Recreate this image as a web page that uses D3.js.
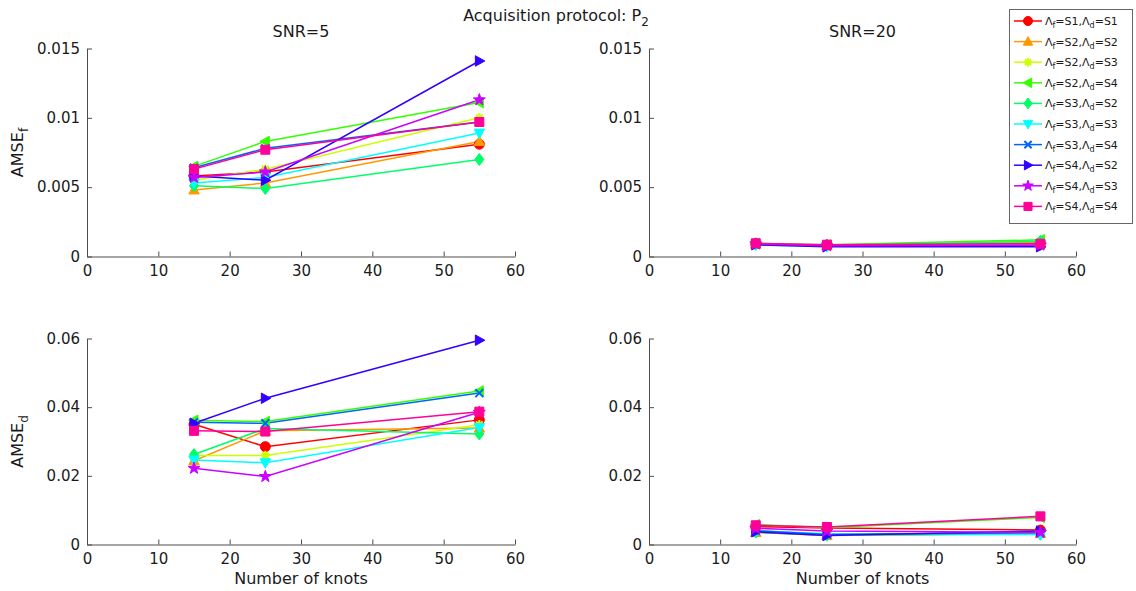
<!DOCTYPE html>
<html>
<head>
<meta charset="utf-8">
<script src="https://cdn.jsdelivr.net/npm/d3@7/dist/d3.min.js"></script>
<style>
  body { margin: 0; background: #fff; }
  svg { display: block; font-family: "DejaVu Sans", Verdana, sans-serif; }
</style>
</head>
<body>
<svg id="chart" width="1136" height="591"></svg>
<script>
// Number of knots (x positions of every series)
const knots = [15, 25, 55];

// Series names as [Λf, Λd]
const seriesNames = [
  ["S1", "S1"], ["S2", "S2"], ["S2", "S3"], ["S2", "S4"], ["S3", "S2"],
  ["S3", "S3"], ["S3", "S4"], ["S4", "S2"], ["S4", "S3"], ["S4", "S4"]
];
const seriesColors = [
  "#ff0000", "#ff9900", "#ccff00", "#33ff00", "#00ff66",
  "#00ffff", "#0066ff", "#3300ff", "#cc00ff", "#ff0099"
];
const seriesMarkers = [
  "circle", "triangleUp", "asterisk", "triangleLeft", "diamond",
  "triangleDown", "cross", "triangleRight", "pentagram", "square"
];

// AMSE_f, SNR = 5
const amseF_snr5 = [
  [0.0058, 0.0061, 0.0081],
  [0.0048, 0.0053, 0.0083],
  [0.0055, 0.0063, 0.0100],
  [0.0065, 0.0083, 0.0111],
  [0.0051, 0.0049, 0.0070],
  [0.0053, 0.0057, 0.0089],
  [0.0064, 0.0078, 0.0097],
  [0.0058, 0.0055, 0.0141],
  [0.0057, 0.0061, 0.0113],
  [0.0063, 0.0077, 0.0097]
];
// AMSE_f, SNR = 20
const amseF_snr20 = [
  [0.00092, 0.00082, 0.00100],
  [0.00088, 0.00078, 0.00100],
  [0.00092, 0.00082, 0.00110],
  [0.00095, 0.00085, 0.00120],
  [0.00090, 0.00080, 0.00110],
  [0.00082, 0.00074, 0.00082],
  [0.00090, 0.00076, 0.00080],
  [0.00085, 0.00070, 0.00070],
  [0.00090, 0.00078, 0.00082],
  [0.00095, 0.00085, 0.00092]
];
// AMSE_d, SNR = 5
const amseD_snr5 = [
  [0.0350, 0.0285, 0.0363],
  [0.0244, 0.0331, 0.0339],
  [0.0259, 0.0259, 0.0349],
  [0.0362, 0.0358, 0.0447],
  [0.0262, 0.0338, 0.0322],
  [0.0246, 0.0238, 0.0341],
  [0.0356, 0.0353, 0.0441],
  [0.0353, 0.0426, 0.0595],
  [0.0222, 0.0198, 0.0385],
  [0.0331, 0.0329, 0.0387]
];
// AMSE_d, SNR = 20
const amseD_snr20 = [
  [0.0052, 0.0048, 0.0042],
  [0.0035, 0.0026, 0.0032],
  [0.0038, 0.0030, 0.0033],
  [0.0058, 0.0049, 0.0079],
  [0.0036, 0.0027, 0.0030],
  [0.0040, 0.0031, 0.0029],
  [0.0040, 0.0029, 0.0034],
  [0.0037, 0.0026, 0.0039],
  [0.0047, 0.0039, 0.0035],
  [0.0056, 0.0051, 0.0082]
];

const xTicks = [0, 10, 20, 30, 40, 50, 60];
const yTicksF = [0, 0.005, 0.01, 0.015];
const yTicksD = [0, 0.02, 0.04, 0.06];
const yTickLabelsF = ["0", "0.005", "0.01", "0.015"];
const yTickLabelsD = ["0", "0.02", "0.04", "0.06"];

const svg = d3.select("#chart");
const axisColor = "#4d4d4d";
const labelSize = 16;

// Marker shape paths centred on (0,0)
function markerPath(kind, r) {
  const p = d3.path();
  switch (kind) {
    case "circle":
      p.arc(0, 0, r, 0, 2 * Math.PI); break;
    case "square":
      p.rect(-r * 0.9, -r * 0.9, r * 1.8, r * 1.8); break;
    case "diamond":
      p.moveTo(0, -r * 1.2); p.lineTo(r * 0.9, 0); p.lineTo(0, r * 1.2); p.lineTo(-r * 0.9, 0); p.closePath(); break;
    case "triangleUp":
      p.moveTo(0, -r * 1.1); p.lineTo(r * 1.05, r * 0.8); p.lineTo(-r * 1.05, r * 0.8); p.closePath(); break;
    case "triangleDown":
      p.moveTo(0, r * 1.1); p.lineTo(r * 1.05, -r * 0.8); p.lineTo(-r * 1.05, -r * 0.8); p.closePath(); break;
    case "triangleLeft":
      p.moveTo(-r * 1.1, 0); p.lineTo(r * 0.8, -r * 1.05); p.lineTo(r * 0.8, r * 1.05); p.closePath(); break;
    case "triangleRight":
      p.moveTo(r * 1.1, 0); p.lineTo(-r * 0.8, -r * 1.05); p.lineTo(-r * 0.8, r * 1.05); p.closePath(); break;
    case "pentagram": {
      for (let i = 0; i < 10; i++) {
        const a = -Math.PI / 2 + i * Math.PI / 5;
        const rr = i % 2 === 0 ? r * 1.25 : r * 0.5;
        if (i === 0) p.moveTo(rr * Math.cos(a), rr * Math.sin(a));
        else p.lineTo(rr * Math.cos(a), rr * Math.sin(a));
      }
      p.closePath(); break;
    }
    case "asterisk": {
      const q = r * 0.95;
      p.moveTo(-q, 0); p.lineTo(q, 0);
      p.moveTo(-q * 0.7, -q * 0.7); p.lineTo(q * 0.7, q * 0.7);
      p.moveTo(-q * 0.7, q * 0.7); p.lineTo(q * 0.7, -q * 0.7);
      p.moveTo(0, -q); p.lineTo(0, q);
      break;
    }
    case "cross": {
      const q = r * 0.8;
      p.moveTo(-q, -q); p.lineTo(q, q);
      p.moveTo(-q, q); p.lineTo(q, -q);
      break;
    }
  }
  return p.toString();
}
const strokeOnly = new Set(["asterisk", "cross"]);

function drawMarker(g, kind, color, x, y, r) {
  const filled = !strokeOnly.has(kind);
  g.append("path")
    .attr("transform", `translate(${x},${y})`)
    .attr("d", markerPath(kind, r))
    .attr("fill", filled ? color : "none")
    .attr("stroke", color)
    .attr("stroke-width", filled ? 1 : 2);
}

function panel(opts) {
  const { left, right, top, bottom, data, yMax, yTicks, yLabels, title, yLabel, yLabelSub, xLabel } = opts;
  const x = d3.scaleLinear().domain([0, 60]).range([left, right]);
  const y = d3.scaleLinear().domain([0, yMax]).range([bottom, top]);
  const g = svg.append("g");

  // x axis with inward ticks
  const xAxis = d3.axisBottom(x).tickValues(xTicks).tickFormat(d3.format("d"))
    .tickSizeInner(-5).tickSizeOuter(0).tickPadding(6);
  const gx = g.append("g").attr("transform", `translate(0,${bottom})`).call(xAxis);
  gx.select(".domain").attr("stroke", axisColor);
  gx.selectAll(".tick line").attr("stroke", axisColor);
  gx.selectAll(".tick text").attr("fill", "#1a1a1a").attr("font-size", 15)
    .attr("font-family", "DejaVu Sans, sans-serif").attr("dy", "0.9em");

  // y axis with inward ticks
  const yAxis = d3.axisLeft(y).tickValues(yTicks).tickFormat((d, i) => yLabels[i])
    .tickSizeInner(-5).tickSizeOuter(0).tickPadding(7);
  const gy = g.append("g").attr("transform", `translate(${left},0)`).call(yAxis);
  gy.select(".domain").attr("stroke", axisColor);
  gy.selectAll(".tick line").attr("stroke", axisColor);
  gy.selectAll(".tick text").attr("fill", "#1a1a1a").attr("font-size", 15)
    .attr("font-family", "DejaVu Sans, sans-serif");

  // series lines then markers
  const line = d3.line().x((d, i) => x(knots[i])).y(d => y(d));
  data.forEach((vals, s) => {
    g.append("path").attr("d", line(vals)).attr("fill", "none")
      .attr("stroke", seriesColors[s]).attr("stroke-width", 1.5);
  });
  data.forEach((vals, s) => {
    vals.forEach((v, i) => drawMarker(g, seriesMarkers[s], seriesColors[s], x(knots[i]), y(v), 5));
  });

  if (title) {
    g.append("text").attr("x", (left + right) / 2).attr("y", top - 12)
      .attr("text-anchor", "middle").attr("font-size", labelSize).attr("fill", "#1a1a1a").text(title);
  }
  if (yLabel) {
    const t = g.append("text")
      .attr("transform", `translate(${left - 64},${(top + bottom) / 2}) rotate(-90)`)
      .attr("text-anchor", "middle").attr("font-size", labelSize).attr("fill", "#1a1a1a");
    t.append("tspan").text(yLabel);
    t.append("tspan").attr("font-size", 12).attr("dy", 5).text(yLabelSub);
  }
  if (xLabel) {
    g.append("text").attr("x", (left + right) / 2).attr("y", bottom + 39)
      .attr("text-anchor", "middle").attr("font-size", labelSize).attr("fill", "#1a1a1a").text(xLabel);
  }
}

const L = [87, 515], R = [649, 1076];
const upper = [48.5, 256.5], lower = [338.5, 544.5];

panel({ left: L[0], right: L[1], top: upper[0], bottom: upper[1], data: amseF_snr5, yMax: 0.015,
  yTicks: yTicksF, yLabels: yTickLabelsF, title: "SNR=5", yLabel: "AMSE", yLabelSub: "f" });
panel({ left: R[0], right: R[1], top: upper[0], bottom: upper[1], data: amseF_snr20, yMax: 0.015,
  yTicks: yTicksF, yLabels: yTickLabelsF, title: "SNR=20" });
panel({ left: L[0], right: L[1], top: lower[0], bottom: lower[1], data: amseD_snr5, yMax: 0.06,
  yTicks: yTicksD, yLabels: yTickLabelsD, yLabel: "AMSE", yLabelSub: "d", xLabel: "Number of knots" });
panel({ left: R[0], right: R[1], top: lower[0], bottom: lower[1], data: amseD_snr20, yMax: 0.06,
  yTicks: yTicksD, yLabels: yTickLabelsD, xLabel: "Number of knots" });

// Figure title
const ft = svg.append("text").attr("x", 556).attr("y", 21).attr("text-anchor", "middle")
  .attr("font-size", labelSize).attr("fill", "#1a1a1a");
ft.append("tspan").text("Acquisition protocol: P");
ft.append("tspan").attr("font-size", 12).attr("dy", 5).text("2");

// Legend
const lg = svg.append("g");
lg.append("rect").attr("x", 1009.5).attr("y", 9.5).attr("width", 123).attr("height", 214)
  .attr("fill", "#fff").attr("stroke", "#666").attr("stroke-width", 1);
seriesNames.forEach((nm, s) => {
  const cy = 21 + s * 20.6;
  lg.append("line").attr("x1", 1014).attr("x2", 1042).attr("y1", cy).attr("y2", cy)
    .attr("stroke", seriesColors[s]).attr("stroke-width", 1.5);
  drawMarker(lg, seriesMarkers[s], seriesColors[s], 1028, cy, 4.5);
  const t = lg.append("text").attr("x", 1045).attr("y", cy + 4).attr("font-size", 11).attr("fill", "#1a1a1a");
  t.append("tspan").text("Λ");
  t.append("tspan").attr("font-size", 8).attr("dy", 3).text("f");
  t.append("tspan").attr("dy", -3).text("=" + nm[0] + ",Λ");
  t.append("tspan").attr("font-size", 8).attr("dy", 3).text("d");
  t.append("tspan").attr("dy", -3).text("=" + nm[1]);
});
</script>
</body>
</html>
